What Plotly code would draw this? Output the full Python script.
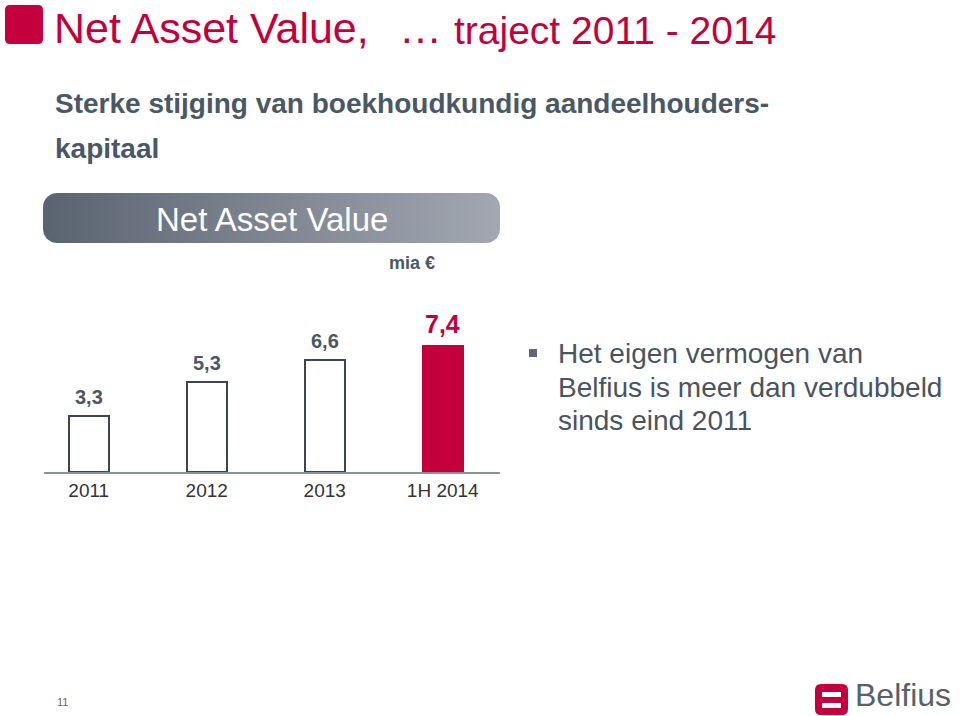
import numpy as np
import plotly.graph_objects as go

# ---- data ----
categories = ["2011", "2012", "2013", "1H 2014"]
values = [3.3, 5.3, 6.6, 7.4]
value_labels = [f"{v:.1f}".replace(".", ",") for v in values]

W, H = 960, 716
FONT = "Liberation Sans, Arial, sans-serif"
RED = "#c4003c"
SLATE = "#4a5866"


def px(x, y):
    return x / W, 1 - y / H


def rr_path(x0, y0, x1, y1, r):
    def P(x, y):
        a, b = px(x, y)
        return f"{a:.5f},{b:.5f}"
    return (f"M{P(x0+r,y0)} L{P(x1-r,y0)} Q{P(x1,y0)} {P(x1,y0+r)} "
            f"L{P(x1,y1-r)} Q{P(x1,y1)} {P(x1-r,y1)} L{P(x0+r,y1)} "
            f"Q{P(x0,y1)} {P(x0,y1-r)} L{P(x0,y0+r)} Q{P(x0,y0)} {P(x0+r,y0)} Z")


def rr_points(x0, y0, x1, y1, r, n=12):
    xs, ys = [], []
    corners = [(x1 - r, y0 + r, -np.pi / 2, 0), (x1 - r, y1 - r, 0, np.pi / 2),
               (x0 + r, y1 - r, np.pi / 2, np.pi), (x0 + r, y0 + r, np.pi, 1.5 * np.pi)]
    for cx, cy, a0, a1 in corners:
        t = np.linspace(a0, a1, n)
        xs += list(cx + r * np.cos(t))
        ys += list(cy + r * np.sin(t))
    xs.append(xs[0]); ys.append(ys[0])
    return xs, ys


fig = go.Figure()

# header gradient box on full-figure pixel axes (drawn first)
hx, hy = rr_points(43, 193, 500, 243, 14)
fig.add_trace(go.Scatter(
    x=hx, y=hy, xaxis="x2", yaxis="y2", mode="lines", fill="toself",
    line=dict(width=0, color="rgba(0,0,0,0)"),
    fillgradient=dict(type="horizontal", colorscale=[[0, "#5a6471"], [1, "#a2a7b1"]]),
    hoverinfo="skip", showlegend=False,
))

# bars
fill_colors = ["white", "white", "white", RED]
line_colors = ["#3b4651", "#3b4651", "#3b4651", RED]
fig.add_trace(go.Bar(
    x=categories, y=values, width=0.34,
    marker=dict(color=fill_colors, line=dict(color=line_colors, width=2)),
    hoverinfo="skip", showlegend=False,
))

annotations = []
for i, (c, v, lab) in enumerate(zip(categories, values, value_labels)):
    last = i == len(values) - 1
    annotations.append(dict(
        x=i, y=v, xref="x", yref="y", text=f"<b>{lab}</b>", showarrow=False,
        yanchor="bottom", yshift=6,
        font=dict(family=FONT, size=25 if last else 20, color=RED if last else SLATE),
    ))


def ann(x, y, text, size, color, xanchor="left", yanchor="middle", bold=False):
    ax, ay = px(x, y)
    annotations.append(dict(
        x=ax, y=ay, xref="paper", yref="paper", text=f"<b>{text}</b>" if bold else text,
        showarrow=False, xanchor=xanchor, yanchor=yanchor,
        font=dict(family=FONT, size=size, color=color),
    ))


ann(52, 28, "Net Asset Value,", 43, RED)
ann(397, 28, "…", 43, RED)
ann(452, 30, "traject 2011 - 2014", 39, RED)
ann(53, 104, "Sterke stijging van boekhoudkundig aandeelhouders-", 28, SLATE, bold=True)
ann(53, 148, "kapitaal", 28, SLATE, bold=True)
ann(272, 219, "Net Asset Value", 33, "white", xanchor="center")
ann(412, 263, "mia €", 18, SLATE, xanchor="center", bold=True)
ann(556, 354, "Het eigen vermogen van", 28, "#4a545e")
ann(556, 387, "Belfius is meer dan verdubbeld", 28, "#4a545e")
ann(556, 420, "sinds eind 2011", 28, "#4a545e")
ann(62, 702, "11", 11, "#666666", xanchor="center")
ann(953, 695, "Belfius", 32, "#56616c", xanchor="right")

shapes = [
    dict(type="path", path=rr_path(5, 5, 43, 44, 5), xref="paper", yref="paper",
         fillcolor="#c6003f", line=dict(width=0)),
    # bullet
    dict(type="rect", xref="paper", yref="paper",
         x0=px(529, 0)[0], x1=px(537, 0)[0], y0=px(0, 349)[1], y1=px(0, 357)[1],
         fillcolor="#5c6670", line=dict(width=0)),
    # logo
    dict(type="path", path=rr_path(815, 684, 848, 715, 6), xref="paper", yref="paper",
         fillcolor="#c6003f", line=dict(width=0)),
    dict(type="rect", xref="paper", yref="paper",
         x0=px(822, 0)[0], x1=px(841, 0)[0], y0=px(0, 692)[1], y1=px(0, 697)[1],
         fillcolor="white", line=dict(width=0)),
    dict(type="rect", xref="paper", yref="paper",
         x0=px(822, 0)[0], x1=px(841, 0)[0], y0=px(0, 703)[1], y1=px(0, 708)[1],
         fillcolor="white", line=dict(width=0)),
]

base_px = 472
unit_px = 17
ymax = 8

fig.update_layout(
    width=W, height=H, margin=dict(l=0, r=0, t=0, b=0),
    paper_bgcolor="white", plot_bgcolor="rgba(0,0,0,0)",
    showlegend=False, bargap=0,
    font=dict(family=FONT),
    xaxis=dict(type="category", range=[-0.379, 3.485], domain=[44 / W, 500 / W],
               showline=True, linecolor="#8a9199", linewidth=1.5, showgrid=False,
               zeroline=False, ticks="", tickfont=dict(family=FONT, size=19, color="#333333"),
               ticklabelstandoff=0, fixedrange=True, anchor="y"),
    yaxis=dict(range=[0, ymax], domain=[1 - base_px / H, 1 - (base_px - unit_px * ymax) / H],
               visible=False, fixedrange=True, anchor="x"),
    xaxis2=dict(range=[0, W], domain=[0, 1], visible=False, anchor="y2", fixedrange=True),
    yaxis2=dict(range=[H, 0], domain=[0, 1], visible=False, anchor="x2", fixedrange=True),
    annotations=annotations, shapes=shapes,
)

fig.write_html("out.html", config=dict(displayModeBar=False))
